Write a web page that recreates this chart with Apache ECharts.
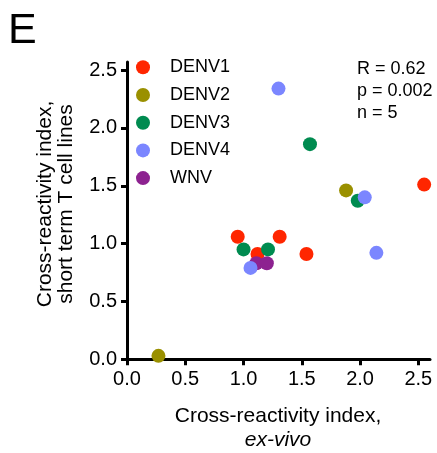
<!DOCTYPE html>
<html>
<head>
<meta charset="utf-8">
<script src="https://cdn.jsdelivr.net/npm/echarts@6/dist/echarts.min.js"></script>
<style>
  html, body { margin: 0; padding: 0; background: #fff; }
  #chart { width: 437px; height: 453px; }
</style>
</head>
<body>
<div id="chart"></div>
<script>
// Cross-reactivity index: ex-vivo (x) vs short term T cell lines (y)
const seriesNames = ['DENV1', 'DENV2', 'DENV3', 'DENV4', 'WNV'];
const denv1 = [[0.95, 1.06], [1.12, 0.91], [1.31, 1.06], [1.54, 0.91], [2.55, 1.51]];
const denv2 = [[0.27, 0.03], [1.88, 1.46]];
const denv3 = [[1.00, 0.95], [1.21, 0.95], [1.57, 1.86], [1.98, 1.37]];
const denv4 = [[1.06, 0.79], [1.30, 2.34], [2.04, 1.40], [2.14, 0.92]];
const wnv = [[1.11, 0.83], [1.20, 0.83]];
const xTicks = [0, 0.5, 1.0, 1.5, 2.0, 2.5];
const yTicks = [0, 0.5, 1.0, 1.5, 2.0, 2.5];
const statLines = ['R = 0.62', 'p = 0.002', 'n = 5'];

const seriesData = [denv1, denv2, denv3, denv4, wnv];
const colors = ['#ff2600', '#9a9000', '#008b50', '#7b86ff', '#8d2290'];
const drawZ = [3, 2, 4, 6, 5];
const FONT = '"Liberation Sans", Arial, Helvetica, sans-serif';

const chart = echarts.init(document.getElementById('chart'), null, { renderer: 'canvas' });

function axisCommon(ticks) {
  return {
    type: 'value',
    min: 0,
    interval: 0.5,
    splitLine: { show: false },
    axisLine: { show: true, onZero: false, lineStyle: { color: '#000', width: 3 } },
    axisTick: { show: true, length: 6, lineStyle: { color: '#000', width: 3 }, customValues: ticks },
    axisLabel: {
      customValues: ticks,
      color: '#000', fontSize: 20, fontFamily: FONT, margin: 10,
      formatter: v => v.toFixed(1)
    }
  };
}

const option = {
  animation: false,
  backgroundColor: '#fff',
  grid: { left: 127, top: 62, width: 303, height: 297.3, containLabel: false },
  xAxis: Object.assign(axisCommon(xTicks), { max: 2.6 }),
  yAxis: Object.assign(axisCommon(yTicks), { max: 2.57 }),
  legend: {
    data: seriesNames,
    orient: 'vertical',
    left: 136,
    top: 58.3,
    padding: 0,
    itemWidth: 14,
    itemHeight: 14,
    itemGap: 9.7,
    icon: 'circle',
    textStyle: { color: '#000', fontSize: 18, fontFamily: FONT, padding: [0, 0, 0, 15] }
  },
  series: seriesNames.map((name, i) => ({
    name: name,
    type: 'scatter',
    data: seriesData[i],
    symbol: 'circle',
    symbolSize: 14,
    clip: false,
    z: drawZ[i],
    itemStyle: { color: colors[i], opacity: 1 }
  })),
  graphic: [
    { type: 'text', left: 8, top: 10, style: { text: 'E', fontSize: 43, fontFamily: FONT, fill: '#000' } },
    ...statLines.map((t, i) => ({
      type: 'text', x: 357, y: 69 + i * 22,
      style: { text: t, fontSize: 18, fontFamily: FONT, fill: '#000', textAlign: 'left', textVerticalAlign: 'middle' }
    })),
    { type: 'text', x: 278, y: 416,
      style: { text: 'Cross-reactivity index,', fontSize: 21, fontFamily: FONT, fill: '#000', textAlign: 'center', textVerticalAlign: 'middle' } },
    { type: 'text', x: 278, y: 440,
      style: { text: 'ex-vivo', fontSize: 21, fontStyle: 'italic', fontFamily: FONT, fill: '#000', textAlign: 'center', textVerticalAlign: 'middle' } },
    { type: 'text', x: 45, y: 204, rotation: Math.PI / 2,
      style: { text: 'Cross-reactivity index,', fontSize: 21, fontFamily: FONT, fill: '#000', textAlign: 'center', textVerticalAlign: 'middle' } },
    { type: 'text', x: 66, y: 204, rotation: Math.PI / 2,
      style: { text: 'short term T cell lines', fontSize: 21, fontFamily: FONT, fill: '#000', textAlign: 'center', textVerticalAlign: 'middle' } }
  ]
};

chart.setOption(option);
</script>
</body>
</html>
